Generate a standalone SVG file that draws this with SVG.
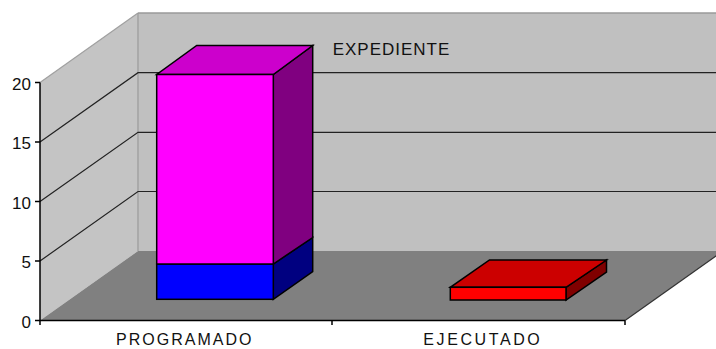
<svg xmlns="http://www.w3.org/2000/svg" width="716" height="349" viewBox="0 0 716 349">
<style>
.t{font-family:"Liberation Sans",Arial,sans-serif;font-size:17px;fill:#111}
.c{font-family:"Liberation Sans",Arial,sans-serif;font-size:16px;fill:#111}
.n{font-family:"Liberation Sans",Arial,sans-serif;font-size:17px;fill:#111;text-anchor:end}
.grid{stroke:#222;stroke-width:1.2;fill:none}
.bar{stroke:#000;stroke-width:1.5;stroke-linejoin:miter}
.ax{stroke:#000;stroke-width:1.5;fill:none}
</style>
<rect width="716" height="349" fill="#fff"/>
<g id="walls">
<polygon points="40,82.5 138,13 138,251 40,320.5" fill="#c4c4c4"/>
<polygon points="138,13 716,13 716,251 138,251" fill="#c0c0c0"/>
<polygon points="40,320.5 625,320.5 723,251 138,251" fill="#808080"/>
<line x1="138" y1="13" x2="716" y2="13" stroke="#9a9a9a" stroke-width="1.5"/>
<line x1="40" y1="82.5" x2="138" y2="13" stroke="#a0a0a0" stroke-width="1.2"/>
<line x1="138" y1="13" x2="138" y2="251" stroke="#9a9a9a" stroke-width="1.2"/>
<line x1="625" y1="320.5" x2="723" y2="251" stroke="#333" stroke-width="1.2"/>
</g>
<g id="gridlines">
<polyline class="grid" points="40,142 138,72.7 716,72.7"/>
<polyline class="grid" points="40,201.5 138,132.3 716,132.3"/>
<polyline class="grid" points="40,261 138,191.5 716,191.5"/>
</g>
<g id="axes">
<polyline class="ax" points="40,82.5 40,320.5 625,320.5"/>
<path class="ax" d="M35,82.5H40M35,142H40M35,201.5H40M35,261H40M35,320.5H40M40,320.5V325M332,320.5V325M625,320.5V325"/>
<text class="n" x="31" y="89.5">20</text>
<text class="n" x="31" y="149">15</text>
<text class="n" x="31" y="208.5">10</text>
<text class="n" x="31" y="268">5</text>
<text class="n" x="31" y="327.5">0</text>
<text class="c" x="116" y="345.3" textLength="135.5" lengthAdjust="spacing">PROGRAMADO</text>
<text class="c" x="423.3" y="345.3" textLength="116.5" lengthAdjust="spacing">EJECUTADO</text>
</g>
<g id="bar-programado">
<polygon class="bar" points="273.3,264 312.7,237.5 312.7,271.5 273.3,299.3" fill="#000080"/>
<polygon class="bar" points="273.3,74.5 312.7,45.5 312.7,237.5 273.3,264" fill="#800080"/>
<polygon class="bar" points="156.7,74.5 273.3,74.5 312.7,45.5 196.7,45.5" fill="#cc00cc"/>
<rect class="bar" x="156.7" y="264" width="116.6" height="35.3" fill="#0000ff"/>
<rect class="bar" x="156.7" y="74.5" width="116.6" height="189.5" fill="#ff00ff"/>
</g>
<g id="bar-ejecutado">
<polygon class="bar" points="566,287.3 606.5,260 606.5,272 566,300" fill="#800000"/>
<polygon class="bar" points="450.3,287.3 566,287.3 606.5,260 489.5,260" fill="#cc0000"/>
<rect class="bar" x="450.3" y="287.3" width="115.7" height="12.7" fill="#ff0000"/>
</g>
<g id="legend">
<text class="t" x="332.7" y="55.3" textLength="116.6" lengthAdjust="spacing">EXPEDIENTE</text>
</g>
</svg>
